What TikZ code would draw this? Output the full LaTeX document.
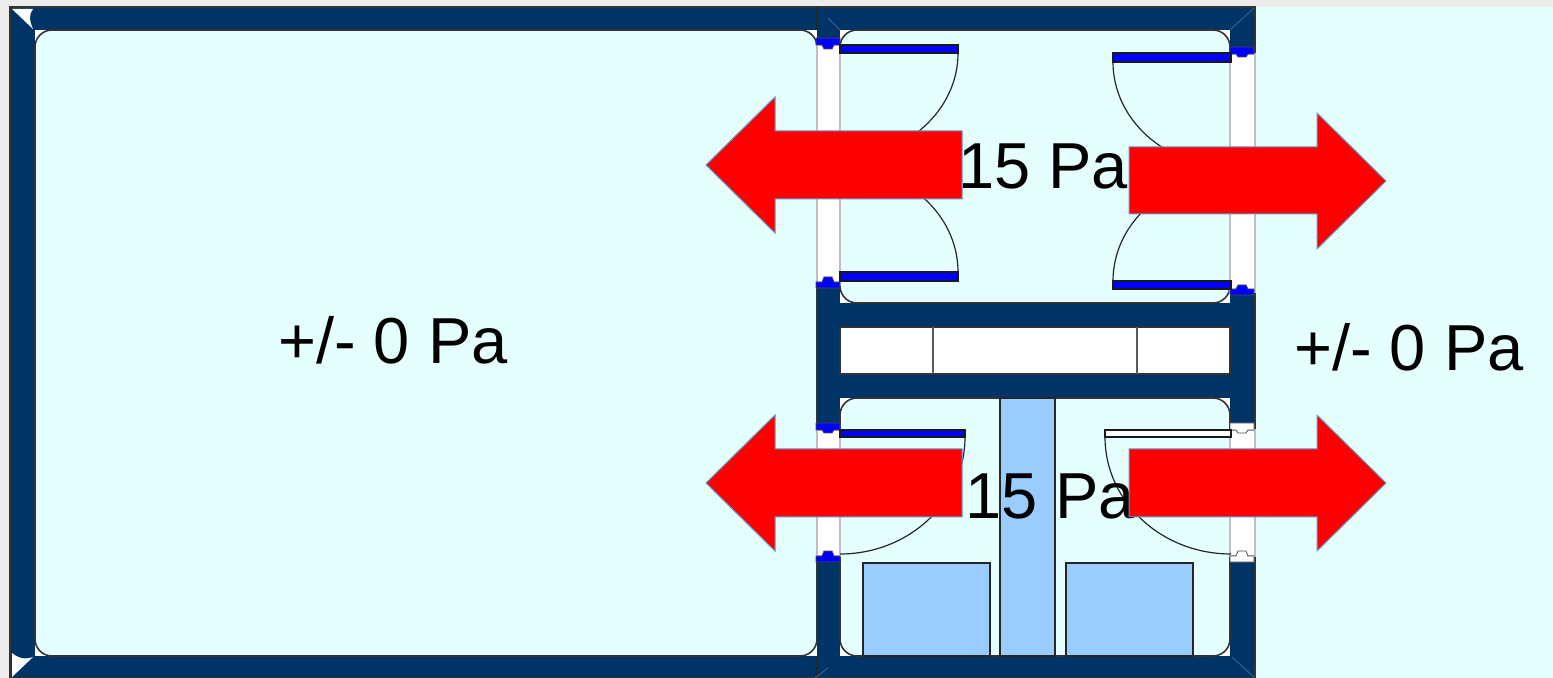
\documentclass[tikz,border=0pt]{standalone}
\usepackage{fontspec}
\setmainfont{Liberation Sans}
\definecolor{wallnavy}{HTML}{003366}
\definecolor{roomcyan}{HTML}{E5FFFF}
\definecolor{furnblue}{HTML}{99CCFF}
\definecolor{backgrey}{HTML}{ECECEC}
\definecolor{arrowedge}{HTML}{5B9BD5}
\tikzset{
        room/.style={fill=roomcyan,draw=black!80,line width=0.8pt,rounded corners=8.5pt},
        opening/.style={fill=white,draw=black!25,line width=1pt},
        leaf/.style={draw=black!90,line width=0.7pt},
        swing/.style={draw=black!85,line width=0.6pt},
        furn/.style={fill=furnblue,draw=black!85,line width=0.8pt},
        stopper/.style={draw=black!70,line width=0.4pt},
        pressure/.style={draw=arrowedge,fill=red,line width=0.5pt},
        label/.style={font=\fontsize{32.5}{36}\selectfont,text=black,inner sep=0pt}
}
\begin{document}
\begin{tikzpicture}[x=0.5pt,y=-0.5pt]
        \useasboundingbox (0,0) rectangle (1553,678);
        % background and outside area
        \fill[backgrey] (0,0) rectangle (1553,678);
        \fill[roomcyan] (1255,7) rectangle (1553,678);
        % walls, then the rooms cut into them
        \draw[fill=wallnavy,draw=black!80,line width=0.8pt] (10,7) rectangle (1255,678);
        \fill[white] (35,30) rectangle (817,656);
        \fill[white] (840,30) rectangle (1230,303);
        \fill[white] (840,398) rectangle (1230,656);
        \draw[room] (35,30) rectangle (817,656);
        \draw[room] (840,30) rectangle (1230,303);
        \draw[room] (840,398) rectangle (1230,656);
        \draw[black!85,line width=0.6pt] (817,7) -- (817,30) (817,656) -- (817,678);
        % white corners of the frame
        \fill[white] (12,9) -- (33,9) .. controls (29,14) and (29,20) .. (33,29) -- cycle;
        \fill[white] (12,653) .. controls (18,658) and (24,660) .. (33,657) -- (12,677) -- cycle;
        \draw[white,opacity=.25,line width=0.4pt] (828,18) -- (840,30) (1230,30) -- (1254,8) (815,678) -- (828,668) (1232,657) -- (1254,677);
        % door openings
        \draw[opening] (817,45) rectangle (840,285);
        \draw[opening] (1230,54) rectangle (1255,292);
        \draw[opening] (817,430) rectangle (840,556);
        \draw[opening] (1230,430) rectangle (1255,556);
        % door stops
        \foreach \cx/\ya/\yb/\yt/\col in {828/38/45/49/blue,1242/47/54/57/blue,828/288/282/277/blue,1242/295/289/285/blue,828/423/430/433/blue,828/562/556/551/blue,1242/423/430/433/white,1242/562/556/551/white}
        {
                \draw[stopper,fill=\col] (\cx-12,\ya) -- (\cx+12,\ya) -- (\cx+12,\yb) -- (\cx+6,\yb) -- (\cx+4,\yt) -- (\cx-4,\yt) -- (\cx-6,\yb) -- (\cx-12,\yb) -- cycle;
        }
        % door leaves and their swing
        \draw[leaf,fill=blue] (840,45) rectangle (958,53);
        \draw[leaf,fill=blue] (840,272) rectangle (958,281);
        \draw[leaf,fill=blue] (1113,53) rectangle (1231,62);
        \draw[leaf,fill=blue] (1113,281) rectangle (1231,289);
        \draw[leaf,fill=blue] (840,430) rectangle (965,437);
        \draw[leaf,fill=white] (1105,430) rectangle (1231,437);
        \draw[swing] (958,53) arc[start angle=0,end angle=90,x radius=118,y radius=105];
        \draw[swing] (958,272) arc[start angle=0,end angle=-90,x radius=118,y radius=105];
        \draw[swing] (1113,62) arc[start angle=180,end angle=90,x radius=118,y radius=105];
        \draw[swing] (1113,281) arc[start angle=180,end angle=270,x radius=118,y radius=105];
        \draw[swing] (965,437) arc[start angle=0,end angle=90,x radius=125,y radius=117];
        \draw[swing] (1105,437) arc[start angle=180,end angle=90,x radius=126,y radius=117];
        % window in the middle wall
        \draw[fill=white,draw=black!80,line width=0.8pt] (840,327) rectangle (1230,374);
        \draw[black!65,line width=1pt] (933,327) -- (933,374) (1137,327) -- (1137,374);
        % furniture
        \draw[furn] (1000,398) rectangle (1055,656);
        \draw[furn] (863,563) rectangle (990,656);
        \draw[furn] (1066,563) rectangle (1193,656);
        % labels
        \node[label] (lefthall) at (393,340) {+/- 0 Pa};
        \node[label] (outside) at (1409,347) {+/- 0 Pa};
        \node[label] (upperlock) at (1043,166) {15 Pa};
        \node[label] (lowerlock) at (1050,496) {15 Pa};
        % pressure arrows
        \draw[pressure] (962,131) -- (775,131) -- (775,97) -- (706,165) -- (775,233) -- (775,199) -- (962,199) -- cycle;
        \draw[pressure] (1129,147) -- (1317,147) -- (1317,113) -- (1386,181) -- (1317,249) -- (1317,214) -- (1129,214) -- cycle;
        \draw[pressure] (962,449) -- (775,449) -- (775,415) -- (706,483) -- (775,551) -- (775,517) -- (962,517) -- cycle;
        \draw[pressure] (1129,449) -- (1317,449) -- (1317,415) -- (1386,483) -- (1317,551) -- (1317,517) -- (1129,517) -- cycle;
\end{tikzpicture}
\end{document}
